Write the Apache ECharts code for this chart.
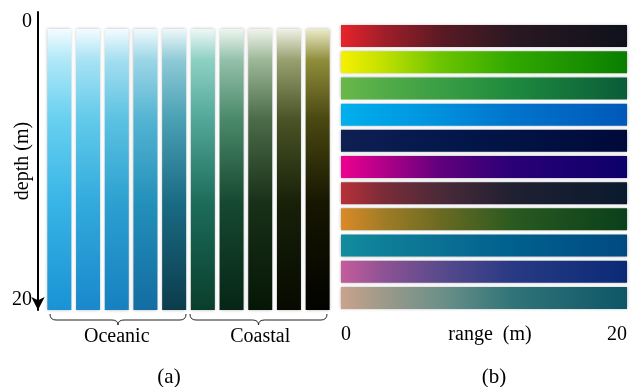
<!DOCTYPE html>
<html>
<head>
<meta charset="utf-8">
<script src="https://cdn.jsdelivr.net/npm/echarts@6/dist/echarts.min.js"></script>
<style>
  html, body { margin: 0; padding: 0; background: #fff; }
  #chart { width: 634px; height: 387px; }
</style>
</head>
<body>
<div id="chart"></div>
<script>
// panel (a): water columns, depth 0..20 m
var depthTicks = [0, 20]
var columns = ['O1', 'O2', 'O3', 'O4', 'O5', 'C1', 'C2', 'C3', 'C4', 'C5']
var columnDepth = [20, 20, 20, 20, 20, 20, 20, 20, 20, 20]
var groups = ['Oceanic', 'Coastal']

// panel (b): attenuation strips, range 0..20 m
var rows = ['r1', 'r2', 'r3', 'r4', 'r5', 'r6', 'r7', 'r8', 'r9', 'r10', 'r11']
var rowRange = [20, 20, 20, 20, 20, 20, 20, 20, 20, 20, 20]
var rangeTicks = [0, 20]

// colours (top -> bottom for columns, left -> right for rows)
var columnColors = [
  ['#f4fcff', '#b0e8f8', '#68d0f0', '#38b4e6', '#1a92d4'],
  ['#f4fcff', '#a8e2f4', '#62caea', '#32aadc', '#1a88cc'],
  ['#f4fcff', '#a4def0', '#5cc2e2', '#2ca0d0', '#1680c0'],
  ['#f0fafc', '#9cd6e6', '#54b4d2', '#2290ba', '#146ca2'],
  ['#eef8fa', '#8ecad6', '#4aa0b4', '#1a6a84', '#0c3c4c'],
  ['#eef8f6', '#8ed0c4', '#52a898', '#1c6c5a', '#0a3e2c'],
  ['#eef6f0', '#94c0aa', '#4a8a6a', '#164830', '#062616'],
  ['#f0f4ec', '#9cb898', '#4c6c48', '#183018', '#061606'],
  ['#f0f2e4', '#98a070', '#4a5426', '#182008', '#060a00'],
  ['#ecebcb', '#908e3a', '#4a4812', '#161600', '#020200']
]
var columnStops = [0, 0.11, 0.32, 0.62, 1]

var rowColors = [
  ['#e8232a', '#a01e2a', '#5a1a24', '#2a1822', '#0e111c'],
  ['#f7f000', '#c0e000', '#6cc400', '#30a800', '#0a7e00'],
  ['#6ab84a', '#52ac48', '#3a9e44', '#1e8a3e', '#0a5c38'],
  ['#00b0ec', '#00a2e6', '#0090dc', '#0074cc', '#0058b8'],
  ['#0e1f52', '#0a1c50', '#04184c', '#021344', '#000a3a'],
  ['#ee0090', '#b00088', '#60007c', '#2a0076', '#0c006a'],
  ['#b83038', '#7a2c38', '#4a2a38', '#202032', '#0a1a2e'],
  ['#da8a28', '#a07c26', '#6a6a22', '#2a5a20', '#0a401a'],
  ['#138c9e', '#0e7e98', '#0a7094', '#00608e', '#004a82'],
  ['#c45c9c', '#8e5294', '#584a8c', '#283a84', '#0a2a76'],
  ['#caa28c', '#9c9a8a', '#6c9088', '#307478', '#0e5668']
]
var rowStops = [0, 0.15, 0.35, 0.6, 1]

var font = 'Liberation Serif'

function gradient(colors, stops, horizontal) {
  return {
    type: 'linear', x: 0, y: 0, x2: horizontal ? 1 : 0, y2: horizontal ? 0 : 1,
    colorStops: colors.map(function (c, i) { return { offset: stops[i], color: c } })
  }
}

// curly brace under a group of columns, built from curves and lines
function brace(x1, x2, y) {
  var m = (x1 + x2) / 2
  var style = { fill: 'none', stroke: '#222', lineWidth: 1 }
  function q(ax, ay, bx, by, cx, cy) {
    return { type: 'bezierCurve', shape: { x1: ax, y1: ay, x2: bx, y2: by, cpx1: cx, cpy1: cy }, style: style }
  }
  function l(ax, ay, bx, by) {
    return { type: 'line', shape: { x1: ax, y1: ay, x2: bx, y2: by }, style: style }
  }
  return {
    type: 'group',
    children: [
      q(x1, y - 6, x1 + 6, y, x1, y),
      l(x1 + 6, y, m - 6, y),
      q(m - 6, y, m, y + 5, m, y),
      q(m, y + 5, m + 6, y, m, y),
      l(m + 6, y, x2 - 6, y),
      q(x2 - 6, y, x2, y - 6, x2, y)
    ]
  }
}

var chart = echarts.init(document.getElementById('chart'))

var option = {
  animation: false,
  backgroundColor: '#fff',
  title: [
    { text: '(a)', left: 164, top: 362, textAlign: 'center',
      textStyle: { fontFamily: font, fontSize: 21, fontWeight: 'normal', color: '#000' } },
    { text: '(b)', left: 489, top: 362, textAlign: 'center',
      textStyle: { fontFamily: font, fontSize: 21, fontWeight: 'normal', color: '#000' } }
  ],
  grid: [
    { left: 38, top: 12, width: 1, height: 298 },
    { left: 45, top: 29, width: 287, height: 281 },
    { left: 341, right: 7, top: 23, height: 288 }
  ],
  xAxis: [
    { gridIndex: 0, type: 'value', show: false },
    { gridIndex: 1, type: 'category', data: columns, show: false },
    { gridIndex: 1, type: 'category', data: groups, position: 'bottom',
      axisLine: { show: false }, axisTick: { show: false },
      axisLabel: { margin: 17, fontFamily: font, fontSize: 20, color: '#000' } },
    { gridIndex: 2, type: 'value', min: 0, max: 20, interval: 20, offset: 6,
      axisLine: { lineStyle: { color: '#000', width: 2 }, symbol: ['none', 'arrow'], symbolSize: [10, 13] },
      axisTick: { show: false }, splitLine: { show: false },
      axisLabel: { margin: 8, fontFamily: font, fontSize: 20, color: '#000',
        alignMinLabel: 'left', alignMaxLabel: 'right',
        formatter: function (v) { return rangeTicks.indexOf(v) >= 0 ? String(v) : '' } },
      name: 'range  (m)', nameLocation: 'middle', nameGap: 8, nameMoveOverlap: false,
      nameTextStyle: { fontFamily: font, fontSize: 20, color: '#000', padding: [0, 0, 0, 12] } }
  ],
  yAxis: [
    { gridIndex: 0, type: 'value', min: 0, max: 20, interval: 20, inverse: true,
      axisLine: { show: true, lineStyle: { color: '#000', width: 2 }, symbol: ['arrow', 'none'], symbolSize: [10, 13] },
      axisTick: { show: false }, splitLine: { show: false },
      axisLabel: { margin: 6, fontFamily: font, fontSize: 20, color: '#000',
        verticalAlignMinLabel: 'top', verticalAlignMaxLabel: 'bottom',
        formatter: function (v) { return depthTicks.indexOf(v) >= 0 ? String(v) : '' } },
      name: 'depth (m)', nameLocation: 'middle', nameGap: 5, nameRotate: 90, nameMoveOverlap: false,
      nameTextStyle: { fontFamily: font, fontSize: 20, color: '#000' } },
    { gridIndex: 1, type: 'value', min: 0, max: 20, inverse: true, show: false },
    { gridIndex: 2, type: 'category', data: rows, inverse: true, show: false }
  ],
  graphic: [brace(50, 186, 320), brace(190, 327, 320)],
  series: [
    {
      type: 'bar', xAxisIndex: 1, yAxisIndex: 1, barWidth: 24,
      data: columnDepth.map(function (v, i) {
        return { value: v, itemStyle: { color: gradient(columnColors[i], columnStops, false) } }
      }),
      itemStyle: { shadowBlur: 3, shadowColor: 'rgba(0,0,0,0.3)' }
    },
    {
      type: 'bar', xAxisIndex: 3, yAxisIndex: 2, barWidth: 22,
      data: rowRange.map(function (v, i) {
        return { value: v, itemStyle: { color: gradient(rowColors[i], rowStops, true) } }
      }),
      itemStyle: { shadowBlur: 3, shadowColor: 'rgba(0,0,0,0.35)' }
    }
  ]
}

chart.setOption(option)
</script>
</body>
</html>
